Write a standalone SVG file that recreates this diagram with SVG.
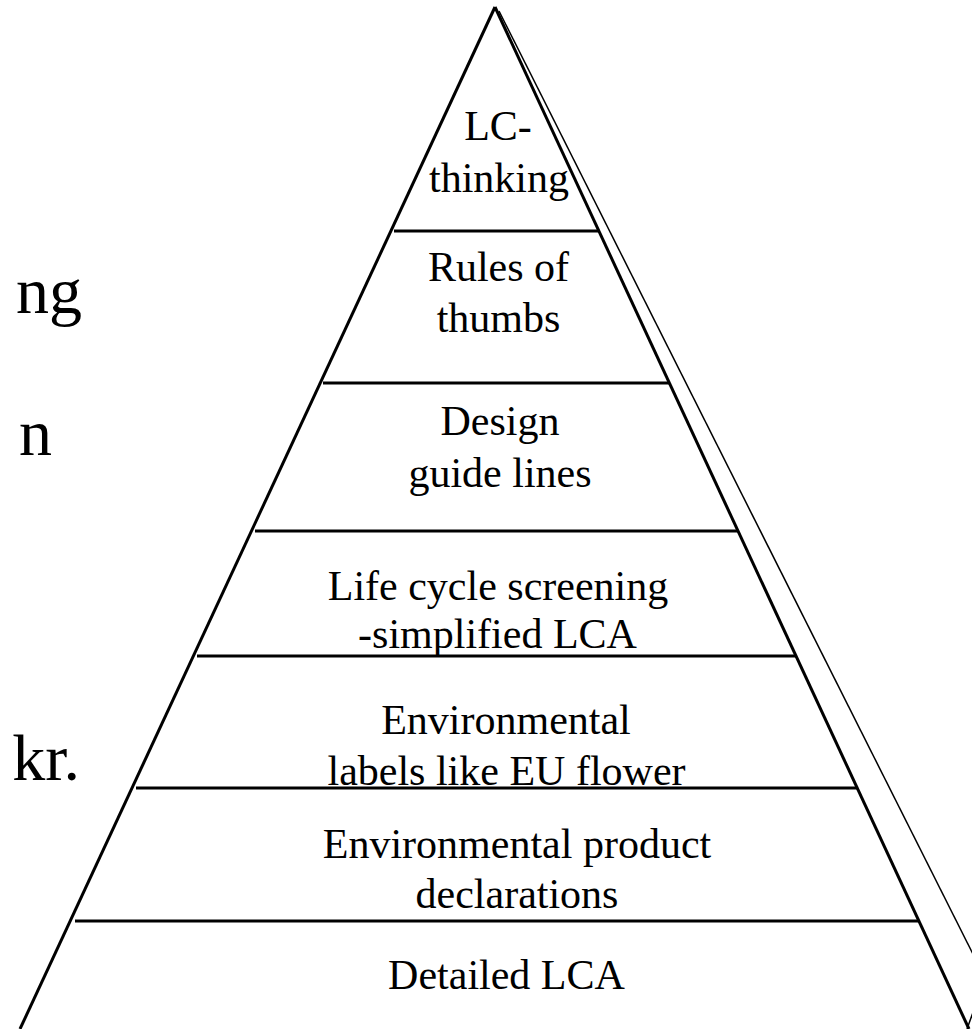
<svg xmlns="http://www.w3.org/2000/svg" width="972" height="1029" viewBox="0 0 972 1029">
<style>
text{font-family:"Liberation Serif","Times New Roman",Times,"DejaVu Serif","Noto Serif",serif;fill:#000}
.t{font-size:42px;text-anchor:middle}
.s{font-size:66px;text-anchor:end}
.e{stroke:#000;stroke-width:3;fill:none}
.h{stroke:#000;stroke-width:3.2;fill:none}
.b{stroke:#000;stroke-width:1.5;fill:none}
</style>
<rect width="972" height="1029" fill="#fff"/>
<g id="side-text" font-family="Liberation Serif, DejaVu Serif, serif">
<text class="s" x="82" y="313">ng</text>
<text class="s" x="52" y="455">n</text>
<text class="s" x="80" y="780">kr.</text>
</g>
<g id="connectors">
<line class="e" x1="20" y1="1029" x2="495" y2="7"/>
<line class="e" x1="495" y1="7" x2="969" y2="1029"/>
<line class="b" x1="499" y1="11" x2="980" y2="968"/>
<line class="b" x1="967" y1="1029" x2="976" y2="1004"/>
<line class="h" x1="394" y1="231" x2="599" y2="231"/>
<line class="h" x1="323" y1="383" x2="669" y2="383"/>
<line class="h" x1="255" y1="531" x2="738" y2="531"/>
<line class="h" x1="197" y1="656" x2="796" y2="656"/>
<line class="h" x1="136" y1="788" x2="857" y2="788"/>
<line class="h" x1="75" y1="921" x2="919" y2="921"/>
</g>
<g id="n1"><text class="t" x="498" y="140">LC-</text><text class="t" x="499" y="192">thinking</text></g>
<g id="n2"><text class="t" x="498.5" y="281">Rules of</text><text class="t" x="498.5" y="332">thumbs</text></g>
<g id="n3"><text class="t" x="500" y="435">Design</text><text class="t" x="500" y="487">guide lines</text></g>
<g id="n4"><text class="t" x="498" y="600">Life cycle screening</text><text class="t" x="497.5" y="648">-simplified LCA</text></g>
<g id="n5"><text class="t" x="506" y="734">Environmental</text><text class="t" x="506.5" y="785">labels like EU flower</text></g>
<g id="n6"><text class="t" x="517" y="858">Environmental product</text><text class="t" x="517" y="908">declarations</text></g>
<g id="n7"><text class="t" x="506.5" y="989">Detailed LCA</text></g>
</svg>
